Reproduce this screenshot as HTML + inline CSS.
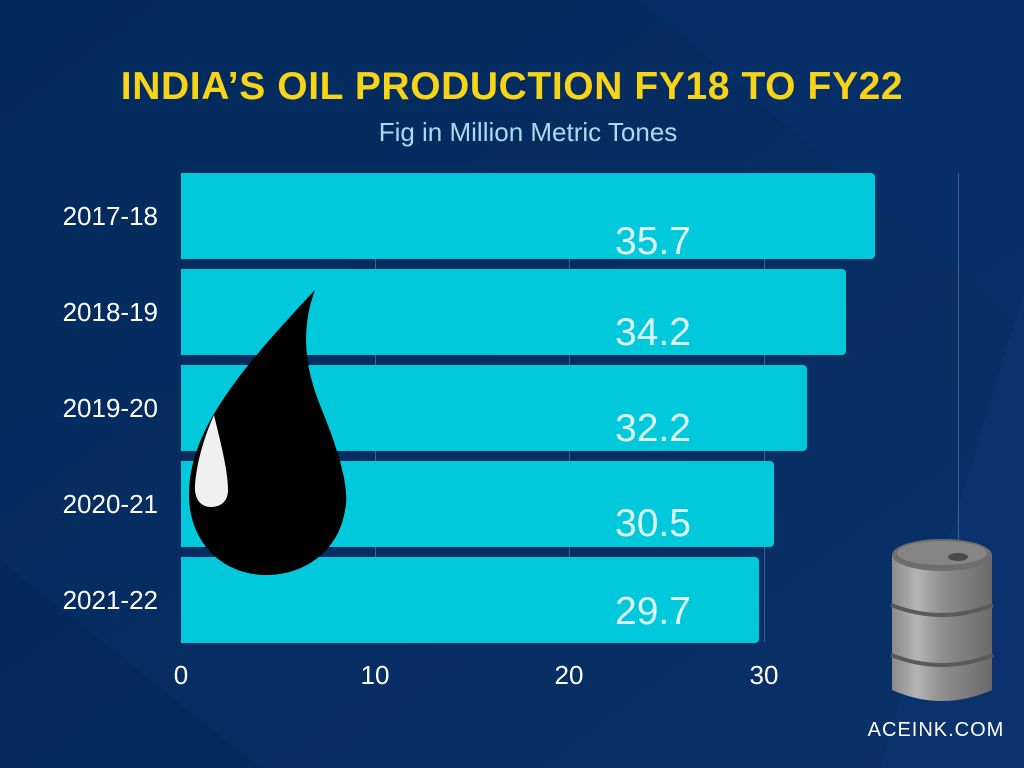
<!DOCTYPE html>
<html><head><meta charset="utf-8"><style>
html,body{margin:0;padding:0;width:1024px;height:768px;overflow:hidden;background:#04295c}
svg{display:block}
</style></head><body>
<svg width="1024" height="768" viewBox="0 0 1024 768" xmlns="http://www.w3.org/2000/svg">
<defs>
<linearGradient id="bg" x1="0" y1="0" x2="1" y2="1">
<stop offset="0" stop-color="#032a5c"/><stop offset="1" stop-color="#0a3168"/>
</linearGradient>
<linearGradient id="barrel" x1="0" y1="0" x2="1" y2="0">
<stop offset="0" stop-color="#8a8a8a"/><stop offset="0.25" stop-color="#b5b5b5"/><stop offset="0.5" stop-color="#8e8e8e"/><stop offset="1" stop-color="#6a6a6a"/>
</linearGradient>
</defs>
<rect width="1024" height="768" fill="url(#bg)"/>
<polygon points="640,0 1024,0 1024,330" fill="#07306a" opacity="0.6"/>
<polygon points="1024,290 1024,768 880,768" fill="#0b3573" opacity="0.5"/>
<polygon points="0,768 260,768 0,560" fill="#02275a" opacity="0.5"/>
<text x="512" y="99" text-anchor="middle" font-family="Liberation Sans, sans-serif" font-weight="bold" font-size="39" letter-spacing="0.6" fill="#f7d417">INDIA’S OIL PRODUCTION  FY18 TO FY22</text>
<text x="528" y="141" text-anchor="middle" font-family="Liberation Sans, sans-serif" font-size="26" fill="#a9dcf0">Fig in Million Metric Tones</text>
<g stroke="#3e5f8c" stroke-width="1">
<line x1="375.5" y1="173" x2="375.5" y2="642"/><line x1="569.5" y1="173" x2="569.5" y2="642"/><line x1="764.5" y1="173" x2="764.5" y2="642"/><line x1="958.5" y1="173" x2="958.5" y2="642"/>
</g>
<g fill="#00c9dc">
<path d="M181,173H871a4,4 0 0 1 4,4V255a4,4 0 0 1 -4,4H181Z"/>
<path d="M181,269H842a4,4 0 0 1 4,4V351a4,4 0 0 1 -4,4H181Z"/>
<path d="M181,365H803a4,4 0 0 1 4,4V447a4,4 0 0 1 -4,4H181Z"/>
<path d="M181,461H770a4,4 0 0 1 4,4V543a4,4 0 0 1 -4,4H181Z"/>
<path d="M181,557H755a4,4 0 0 1 4,4V639a4,4 0 0 1 -4,4H181Z"/>
</g>
<g font-family="Liberation Sans, sans-serif" font-size="39" fill="#dcf6fa" text-anchor="middle">
<text x="653" y="254">35.7</text><text x="653" y="345">34.2</text><text x="653" y="441">32.2</text><text x="653" y="536">30.5</text><text x="653" y="624">29.7</text>
</g>
<g font-family="Liberation Sans, sans-serif" font-size="26" fill="#ffffff" text-anchor="end">
<text x="158" y="225">2017-18</text><text x="158" y="321">2018-19</text><text x="158" y="417">2019-20</text><text x="158" y="513">2020-21</text><text x="158" y="609">2021-22</text>
</g>
<g font-family="Liberation Sans, sans-serif" font-size="26" fill="#ffffff" text-anchor="middle">
<text x="181" y="684">0</text><text x="375" y="684">10</text><text x="569" y="684">20</text><text x="764" y="684">30</text>
</g>
<path d="M315,290 C300,330 305,370 322,410 C340,455 350,490 345,510 C338,555 300,575 267,575 C220,575 189,540 189,495 C189,430 240,370 315,290Z" fill="#000"/>
<path d="M214,415 C220,440 228,470 228,490 C228,502 220,507 211,507 C200,507 194,498 195,485 C197,460 205,435 214,415Z" fill="#f0f0f0"/>
<g>
<path d="M892,555 V690 Q942,712 992,690 V555Z" fill="url(#barrel)"/>
<ellipse cx="942" cy="555" rx="50" ry="16" fill="#6e6e6e"/>
<ellipse cx="942" cy="553" rx="45" ry="12" fill="#858585"/>
<ellipse cx="958" cy="557" rx="10" ry="4" fill="#4a4a4a"/>
<path d="M891,605 Q942,625 993,605" stroke="#5a5a5a" stroke-width="4" fill="none"/>
<path d="M891,655 Q942,675 993,655" stroke="#5a5a5a" stroke-width="4" fill="none"/>
</g>
<text x="936" y="736" text-anchor="middle" font-family="Liberation Sans, sans-serif" font-size="20" fill="#ffffff" letter-spacing="1">ACEINK.COM</text>
</svg>
</body></html>
